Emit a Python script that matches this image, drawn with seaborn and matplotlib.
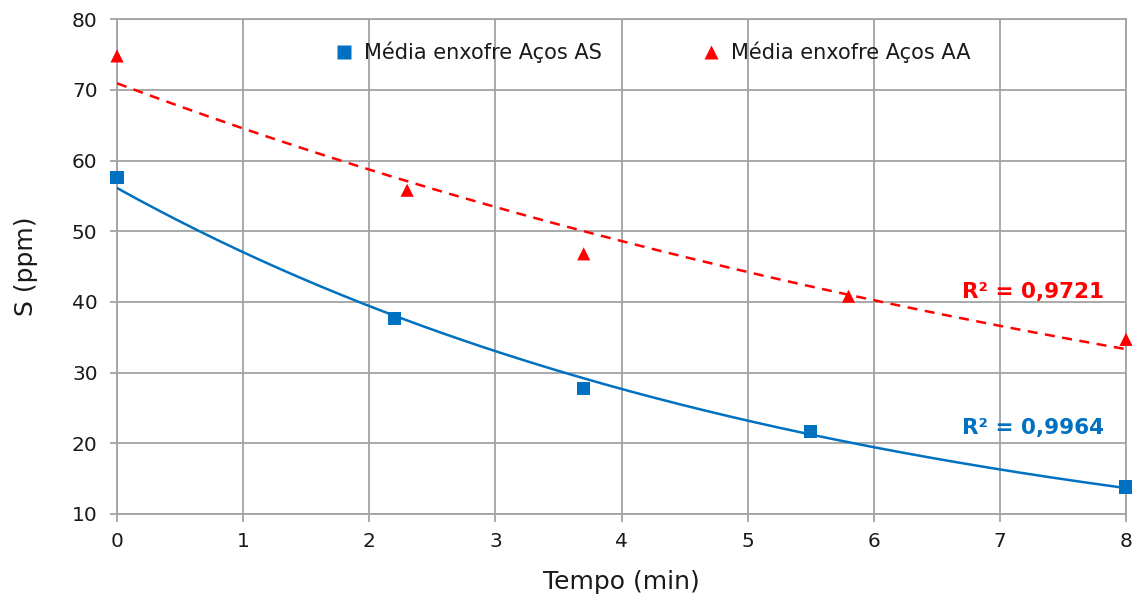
import numpy as np
import pandas as pd
import matplotlib
matplotlib.use("Agg")
import matplotlib.pyplot as plt
import seaborn as sns

# Data
tempo_as = [0.0, 2.2, 3.7, 5.5, 8.0]
enxofre_as = [57.6, 37.7, 27.8, 21.7, 13.8]
tempo_aa = [0.0, 2.3, 3.7, 5.8, 8.0]
enxofre_aa = [74.8, 55.8, 46.8, 40.8, 34.7]
serie_as = "Média enxofre Aços AS"
serie_aa = "Média enxofre Aços AA"
r2_as = "R² = 0,9964"
r2_aa = "R² = 0,9721"
x_ticks = [0, 1, 2, 3, 4, 5, 6, 7, 8]
y_ticks = [10, 20, 30, 40, 50, 60, 70, 80]

blue = "#0070C0"
red = "#FF0000"
grid_c = "#A3A3A3"
txt_c = "#1a1a1a"

sns.set_theme(style="white")
plt.rcParams["font.family"] = ["DejaVu Sans"]

df = pd.concat([
    pd.DataFrame({"Tempo": tempo_as, "S": enxofre_as, "Serie": serie_as}),
    pd.DataFrame({"Tempo": tempo_aa, "S": enxofre_aa, "Serie": serie_aa}),
])

fig = plt.figure(figsize=(11.32, 5.99), dpi=100)
ax = fig.add_axes([0.1034, 0.142, 0.8913, 0.826])

# exponential trendlines (fit on log values, like a spreadsheet)
xs = np.linspace(0, 8, 200)
for tx, ty, c, ls in [(tempo_as, enxofre_as, blue, "-"), (tempo_aa, enxofre_aa, red, (0, (4, 3)))]:
    b, a = np.polyfit(tx, np.log(ty), 1)
    sns.lineplot(x=xs, y=np.exp(a) * np.exp(b * xs), ax=ax, color=c,
                 linestyle=ls, linewidth=1.8, legend=False, zorder=3)

sns.scatterplot(data=df, x="Tempo", y="S", hue="Serie", style="Serie",
                palette={serie_as: blue, serie_aa: red},
                markers={serie_as: "s", serie_aa: "^"},
                s=90, edgecolor="none", ax=ax, zorder=4, clip_on=False)

ax.set_xlim(0, 8)
ax.set_ylim(10, 80)
ax.set_xticks(x_ticks)
ax.set_yticks(y_ticks)
ax.grid(True, color=grid_c, linewidth=1.3)
ax.set_axisbelow(True)
for s in ax.spines.values():
    s.set_color(grid_c)
    s.set_linewidth(1.3)
ax.tick_params(axis="both", which="both", width=1.3, color=grid_c,
               labelsize=14.5, labelcolor=txt_c, direction="out",
               bottom=True, left=True)
ax.tick_params(axis="y", length=5, pad=9)
ax.tick_params(axis="x", length=6, pad=7)

ax.set_xlabel("Tempo (min)", fontsize=18, color=txt_c)
ax.set_ylabel("S (ppm)", fontsize=18, color=txt_c)
ax.xaxis.set_label_coords(0.5, -0.113)
ax.yaxis.set_label_coords(-0.078, 0.5)

ax.legend(loc="center", bbox_to_anchor=(0.528, 0.933), ncol=2, frameon=False,
          columnspacing=4.5, handletextpad=0.2, handlelength=1.5,
          prop={"family": "DejaVu Sans", "size": 15})
for t in ax.get_legend().get_texts():
    t.set_color(txt_c)

ax.text(7.26, 41.4, r2_aa, color=red, fontsize=15.5, fontweight="bold", ha="center", va="center")
ax.text(7.26, 22.2, r2_as, color=blue, fontsize=15.5, fontweight="bold", ha="center", va="center")

fig.savefig("out.png", dpi=100)
